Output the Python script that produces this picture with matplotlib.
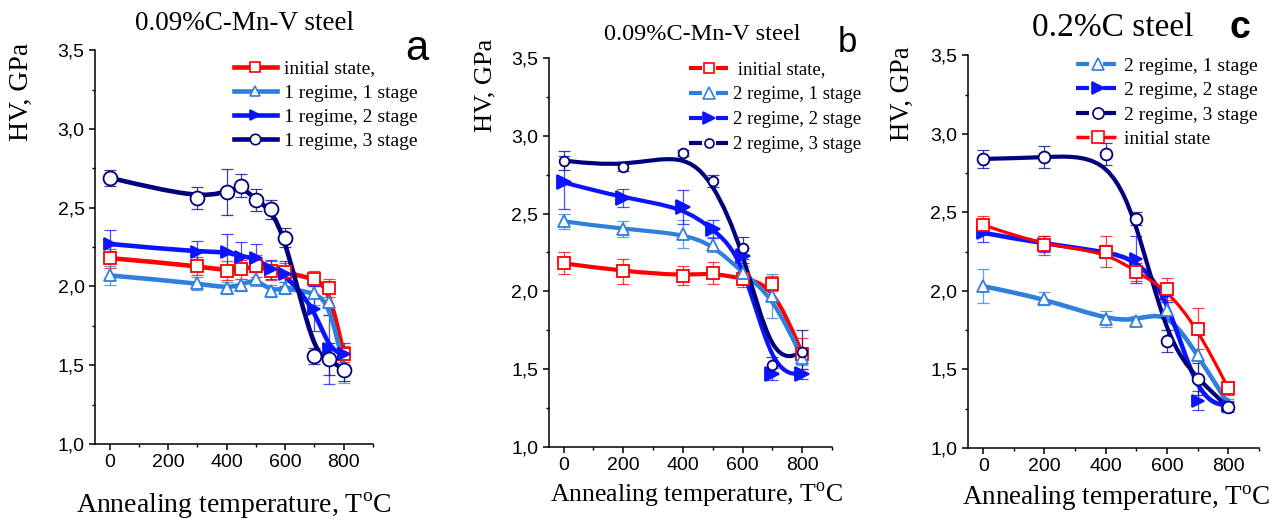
import numpy as np
import matplotlib
matplotlib.use("Agg")
import matplotlib.pyplot as plt
from matplotlib.path import Path
from matplotlib.patches import PathPatch
from matplotlib.lines import Line2D
from matplotlib.ticker import MultipleLocator, FuncFormatter

plt.rcParams['font.family'] = ['Liberation Serif', 'DejaVu Serif']
plt.rcParams['mathtext.fontset'] = 'custom'
plt.rcParams['mathtext.rm'] = 'Liberation Serif'

# panel a: 0.09%C-Mn-V steel, regime 1
xa = [0, 300, 400, 450, 500, 550, 600, 700, 750, 800]
a_init = [2.18, 2.13, 2.10, 2.11, 2.13, 2.10, 2.09, 2.05, 1.99, 1.57]
a_init_err = [0.06, 0.06, 0.06, 0.06, 0.07, 0.06, 0.06, 0.05, 0.06, 0.05]
a_s1 = [2.07, 2.02, 1.99, 2.01, 2.05, 1.97, 1.99, 1.96, 1.90, 1.49]
a_s1_err = [0.06, 0.04, 0.04, 0.04, 0.05, 0.04, 0.04, 0.08, 0.08, 0.10]
a_s2 = [2.27, 2.22, 2.22, 2.19, 2.18, 2.11, 2.08, 1.86, 1.60, 1.57]
a_s2_err = [0.09, 0.07, 0.11, 0.09, 0.09, 0.06, 0.08, 0.14, 0.22, 0.07]
a_s3 = [2.69, 2.56, 2.60, 2.64, 2.55, 2.49, 2.31, 1.56, 1.54, 1.47]
a_s3_err = [0.05, 0.07, 0.145, 0.075, 0.07, 0.06, 0.06, 0.05, 0.10, 0.07]

# panel b: 0.09%C-Mn-V steel, regime 2
xb = [0, 200, 400, 500, 600, 700, 800]
b_init = [2.18, 2.13, 2.10, 2.12, 2.08, 2.05, 1.60]
b_init_err = [0.07, 0.08, 0.06, 0.07, 0.05, 0.05, 0.10]
b_s1 = [2.45, 2.40, 2.37, 2.30, 2.12, 1.97, 1.57]
b_s1_err = [0.05, 0.05, 0.09, 0.05, 0.04, 0.14, 0.04]
b_s2 = [2.70, 2.60, 2.54, 2.40, 2.23, 1.47, 1.47]
b_s2_err = [0.17, 0.06, 0.11, 0.06, 0.05, 0.04, 0.03]
b_s3 = [2.84, 2.80, 2.89, 2.71, 2.28, 1.53, 1.61]
b_s3_err = [0.06, 0.03, 0.02, 0.04, 0.07, 0.05, 0.14]

# panel c: 0.2%C steel, regime 2
xc = [0, 200, 400, 500, 600, 700, 800]
c_s1 = [2.03, 1.95, 1.82, 1.81, 1.88, 1.59, 1.28]
c_s1_err = [0.11, 0.04, 0.05, 0.03, 0.05, 0.13, 0.03]
c_s2 = [2.37, 2.30, 2.25, 2.20, 1.98, 1.30, 1.27]
c_s2_err = [0.06, 0.05, 0.04, 0.15, 0.05, 0.06, 0.03]
c_s3 = [2.84, 2.85, 2.87, 2.46, 1.68, 1.44, 1.26]
c_s3_err = [0.06, 0.07, 0.07, 0.04, 0.07, 0.10, 0.03]
c_init = [2.42, 2.29, 2.25, 2.12, 2.01, 1.76, 1.38]
c_init_err = [0.06, 0.06, 0.10, 0.06, 0.07, 0.13, 0.04]

RED = '#ff0000'
LBLUE = '#2f7fdc'
BLUE = '#0a14ff'
NAVY = '#00007f'


def bspline_path(x, y):
    # clamped cubic B-spline with the data points as control points (Origin style)
    P = np.column_stack([x, y]).astype(float)
    Q = np.vstack([P[:1], P[:1], P, P[-1:], P[-1:]])
    verts = [P[0]]
    codes = [Path.MOVETO]
    for j in range(len(Q) - 3):
        q0, q1, q2, q3 = Q[j], Q[j + 1], Q[j + 2], Q[j + 3]
        verts += [(2 * q1 + q2) / 3, (q1 + 2 * q2) / 3, (q1 + 4 * q2 + q3) / 6]
        codes += [Path.CURVE4] * 3
    return Path(np.array(verts), codes)


def series(ax, x, y, err, color, marker, ms, lw, filled=False):
    ax.errorbar(x, y, yerr=err, fmt='none', ecolor=color, elinewidth=0.9,
                capsize=4, capthick=0.9, alpha=0.75, zorder=2)
    ax.add_patch(PathPatch(bspline_path(x, y), facecolor='none', edgecolor=color,
                           lw=lw, capstyle='round', joinstyle='round', zorder=3))
    ax.plot(x, y, ls='none', marker=marker, ms=ms, mec=color, mew=1.3,
            mfc=color if filled else 'white', zorder=4)


def style_axes(ax, pos):
    ax.set_position(pos)
    ax.set_xlim(-50, 900)
    ax.set_ylim(1.0, 3.5)
    for s in ['top', 'right']:
        ax.spines[s].set_visible(False)
    for s in ['left', 'bottom']:
        ax.spines[s].set_linewidth(1.1)
    ax.xaxis.set_major_locator(MultipleLocator(200))
    ax.xaxis.set_minor_locator(MultipleLocator(100))
    ax.yaxis.set_major_locator(MultipleLocator(0.5))
    ax.yaxis.set_minor_locator(MultipleLocator(0.25))
    ax.yaxis.set_major_formatter(FuncFormatter(lambda v, p: f'{v:.1f}'.replace('.', ',')))
    ax.tick_params(which='major', direction='out', length=4, width=1.1, labelsize=14)
    ax.tick_params(which='minor', direction='out', length=2.5, width=1.0)
    for lab in ax.get_xticklabels() + ax.get_yticklabels():
        lab.set_family('Liberation Sans')


def handle(color, marker, ms, lw, filled, gap):
    if gap:
        # dash lengths in px -> units of linewidth
        u = lw * 100 / 72
        ls = (0, (13 / u, 14 / u))
    else:
        ls = '-'
    return Line2D([], [], color=color, lw=lw, ls=ls, marker=marker, ms=ms, mec=color,
                  mew=1.2, mfc=color if filled else 'white')


fig = plt.figure(figsize=(12.82, 5.21), dpi=100)

# ---- panel a ----
ax1 = fig.add_axes([0, 0, 1, 1])
series(ax1, xa, a_init, a_init_err, RED, 's', 8, 3.3)
series(ax1, xa, a_s1, a_s1_err, LBLUE, '^', 9, 3.3)
series(ax1, xa, a_s2, a_s2_err, BLUE, '>', 8, 3.3, filled=True)
series(ax1, xa, a_s3, a_s3_err, NAVY, 'o', 10, 3.3)
style_axes(ax1, [0.0741, 0.1478, 0.2168, 0.756])
h1 = [handle(RED, 's', 6.5, 3.3, False, False), handle(LBLUE, '^', 7.5, 3.3, False, False),
      handle(BLUE, '>', 7, 3.3, True, False), handle(NAVY, 'o', 7.5, 3.3, False, False)]
ax1.legend(h1, ['initial state,', '1 regime, 1 stage', '1 regime, 2 stage', '1 regime, 3 stage'],
           loc='upper left', bbox_to_anchor=(0.5, 0.975), frameon=False, fontsize=14,
           handlelength=2.2, handletextpad=0.35, labelspacing=0.34, borderpad=0, borderaxespad=0)

# ---- panel b ----
ax2 = fig.add_axes([0, 0, 1, 1])
series(ax2, xb, b_init, b_init_err, RED, 's', 8, 3.0)
series(ax2, xb, b_s1, b_s1_err, LBLUE, '^', 9, 3.0)
series(ax2, xb, b_s2, b_s2_err, BLUE, '>', 10, 3.0, filled=True)
series(ax2, xb, b_s3, b_s3_err, NAVY, 'o', 7, 3.0)
style_axes(ax2, [0.428, 0.142, 0.221, 0.747])
h2 = [handle(RED, 's', 7.5, 3.0, False, True), handle(LBLUE, '^', 8, 3.0, False, True),
      handle(BLUE, '>', 9, 3.0, True, True), handle(NAVY, 'o', 6.5, 3.0, False, True)]
ax2.legend(h2, [' initial state,', '2 regime, 1 stage', '2 regime, 2 stage', '2 regime, 3 stage'],
           loc='upper left', bbox_to_anchor=(0.495, 0.992), frameon=False, fontsize=13.5,
           handlelength=2.1, handletextpad=0.25, labelspacing=0.42, borderpad=0, borderaxespad=0)

# ---- panel c ----
ax3 = fig.add_axes([0, 0, 1, 1])
series(ax3, xc, c_s1, c_s1_err, LBLUE, '^', 9, 3.3)
series(ax3, xc, c_s2, c_s2_err, BLUE, '>', 9, 3.3, filled=True)
series(ax3, xc, c_s3, c_s3_err, NAVY, 'o', 8.5, 3.0)
series(ax3, xc, c_init, c_init_err, RED, 's', 8, 2.3)
style_axes(ax3, [0.755, 0.140, 0.227, 0.754])
h3 = [handle(LBLUE, '^', 8, 3.0, False, True), handle(BLUE, '>', 9, 3.0, True, True),
      handle(NAVY, 'o', 8, 3.0, False, True), handle(RED, 's', 8, 2.5, False, True)]
ax3.legend(h3, ['2 regime, 1 stage', '2 regime, 2 stage', '2 regime, 3 stage', 'initial state'],
           loc='upper left', bbox_to_anchor=(0.372, 0.995), frameon=False, fontsize=14,
           handlelength=2.2, handletextpad=0.25, labelspacing=0.35, borderpad=0, borderaxespad=0)

# titles, panel letters, axis labels
fig.text(0.191, 0.942, '0.09%C-Mn-V steel', ha='center', va='baseline', fontsize=19.5)
fig.text(0.548, 0.923, '0.09%C-Mn-V steel', ha='center', va='baseline', fontsize=17.5)
fig.text(0.868, 0.931, '0.2%C steel', ha='center', va='baseline', fontsize=24)

fig.text(0.325, 0.885, 'a', ha='center', va='baseline', fontsize=30, family='Liberation Sans')
fig.text(0.661, 0.900, 'b', ha='center', va='baseline', fontsize=25, family='Liberation Sans')
fig.text(0.967, 0.928, 'c', ha='center', va='baseline', fontsize=27, family='Liberation Sans',
         weight='bold')

xlab = r'Annealing temperature, T$^{\mathrm{o}}$C'
fig.text(0.1825, 0.015, xlab, ha='center', va='baseline', fontsize=20)
fig.text(0.543, 0.035, xlab, ha='center', va='baseline', fontsize=18.5)
fig.text(0.871, 0.031, xlab, ha='center', va='baseline', fontsize=19.5)

fig.text(0.017, 0.824, 'HV, GPa', rotation=90, ha='center', va='center', fontsize=20)
fig.text(0.379, 0.837, 'HV, GPa', rotation=90, ha='center', va='center', fontsize=19)
fig.text(0.704, 0.820, 'HV, GPa', rotation=90, ha='center', va='center', fontsize=19.3)

fig.savefig('out.png', dpi=100)
